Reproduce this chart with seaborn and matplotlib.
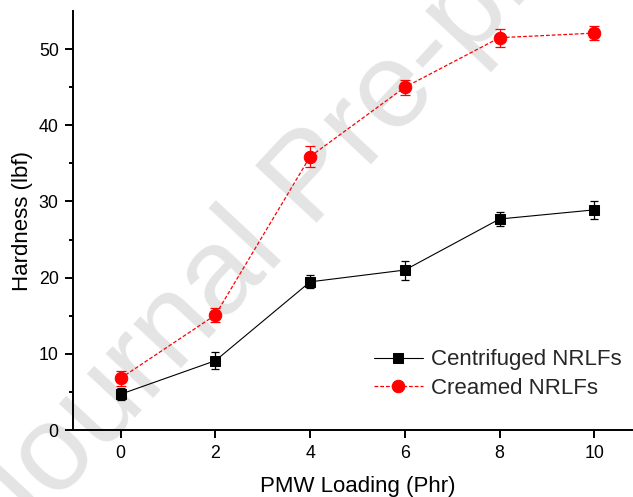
import matplotlib
matplotlib.use("Agg")
import matplotlib.pyplot as plt
import seaborn as sns
import pandas as pd

# PMW loading levels (phr)
loading = [0, 2, 4, 6, 8, 10]

# Hardness (lbf) and standard deviations for each foam type
centrifuged = [4.7, 9.1, 19.45, 21.0, 27.7, 28.9]
centrifuged_err = [0.8, 1.1, 0.85, 1.25, 0.95, 1.15]
creamed = [6.8, 15.1, 35.9, 45.0, 51.5, 52.1]
creamed_err = [1.0, 0.9, 1.4, 1.0, 1.2, 0.95]

series_names = ["Centrifuged NRLFs", "Creamed NRLFs"]
x_label = "PMW Loading (Phr)"
y_label = "Hardness (lbf)"
watermark = "Journal Pre-proof"

sns.set_theme(style="ticks")
plt.rcParams["font.family"] = ["Liberation Sans", "DejaVu Sans"]

df_c = pd.DataFrame({"x": loading, "y": centrifuged})
df_r = pd.DataFrame({"x": loading, "y": creamed})

fig = plt.figure(figsize=(6.33, 4.97), dpi=100)
fig.patch.set_facecolor("white")
ax = fig.add_axes([0.1158, 0.1348, 0.898, 0.843])
ax.set_facecolor("none")

# faint diagonal watermark behind everything
fig.text(0.5300, 0.5930, watermark, fontsize=88, color="#e4e4e4",
         rotation=47, rotation_mode="anchor", ha="center", va="baseline",
         zorder=-1)

sns.lineplot(data=df_c, x="x", y="y", ax=ax, color="black", lw=0.8,
             marker="s", markersize=6.5, markeredgecolor="black",
             label=series_names[0], zorder=3)
sns.lineplot(data=df_r, x="x", y="y", ax=ax, color="red", lw=0.9,
             linestyle=(0, (3, 1.6)), marker="o", markersize=9,
             markeredgecolor="red", label=series_names[1], zorder=4)

ax.errorbar(loading, centrifuged, yerr=centrifuged_err, fmt="none",
            ecolor="black", elinewidth=0.9, capsize=3, capthick=0.9, zorder=3)
ax.errorbar(loading, creamed, yerr=creamed_err, fmt="none",
            ecolor="red", elinewidth=0.9, capsize=3.5, capthick=0.9, zorder=4)

ax.set_xlim(-1, 11)
ax.set_ylim(0, 55)
ax.set_xticks([0, 2, 4, 6, 8, 10])
ax.set_yticks([0, 10, 20, 30, 40, 50])
ax.set_yticks([5, 15, 25, 35, 45], minor=True)

for side in ("top", "right"):
    ax.spines[side].set_visible(False)
for side in ("left", "bottom"):
    ax.spines[side].set_linewidth(1.4)
    ax.spines[side].set_color("black")

ax.tick_params(axis="both", which="major", direction="out", length=5.5,
               width=1.4, color="black", labelsize=12.8, labelcolor="black",
               pad=5)
ax.tick_params(axis="y", which="minor", direction="out", length=3,
               width=1.4, color="black")

ax.set_xlabel(x_label, fontsize=16, color="black")
ax.set_ylabel(y_label, fontsize=16, color="black")
ax.xaxis.set_label_coords(0.5, -0.110)
ax.yaxis.set_label_coords(-0.071, 0.5)

ax.legend(loc="center left", bbox_to_anchor=(0.5908, 0.2470),
          bbox_transform=fig.transFigure, frameon=False, fontsize=16,
          handlelength=2.2, handletextpad=0.36, labelspacing=0.34,
          borderpad=0, borderaxespad=0, numpoints=1)

fig.savefig("out.png", dpi=100)
